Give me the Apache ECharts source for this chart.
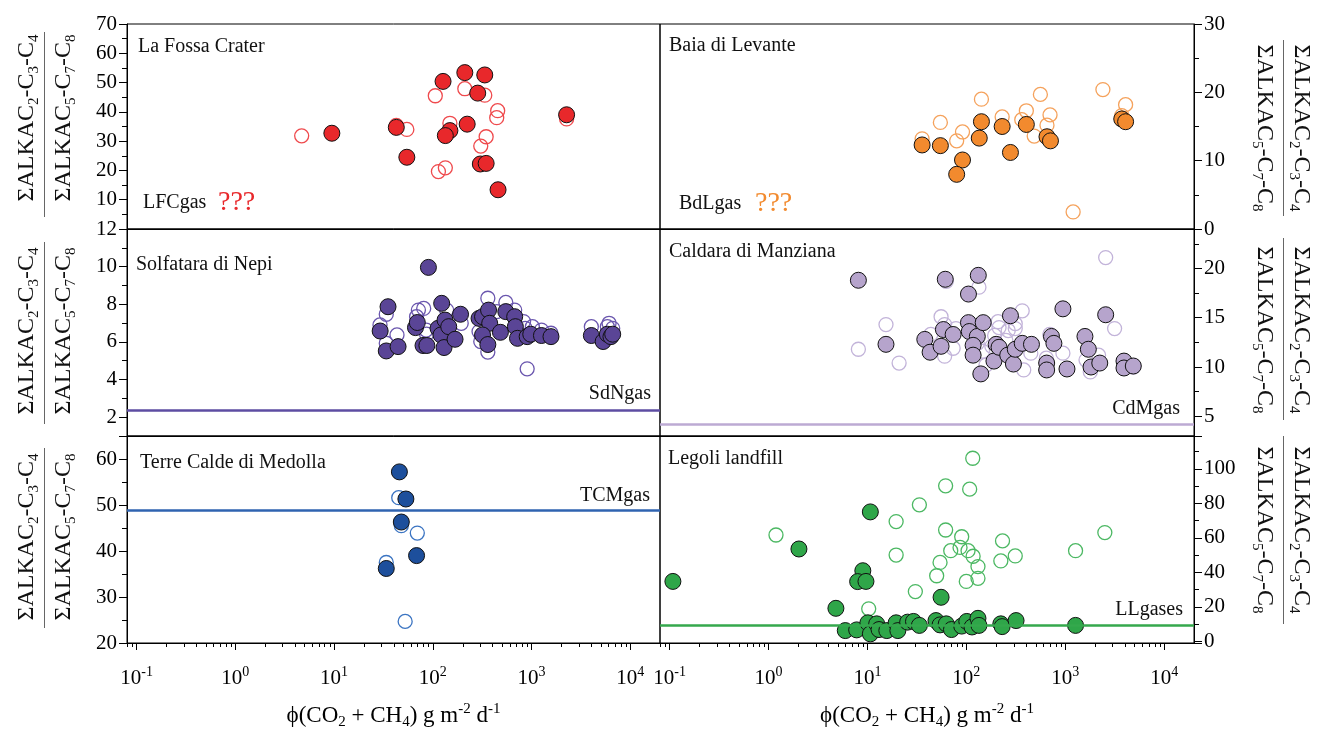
<!DOCTYPE html>
<html><head><meta charset="utf-8">
<script src="https://cdn.jsdelivr.net/npm/echarts@6/dist/echarts.min.js"></script>
<style>html,body{margin:0;padding:0;background:#fff}#c{width:1327px;height:729px}</style>
</head><body><div id="c"></div>
<script>
// ---------------- DATA ----------------
// [flux g m-2 d-1, ratio]
const lfcFilled = [[9.5,32.7],[42.7,34.7],[54.6,24.5],[127,50.4],[211,53.4],[336,52.6],[285,46.4],[223,35.8],[149,33.6],[134,31.9],[303,22.2],[347,22.4],[458,13.4],[2265,39.0]];
const lfcOpen = [[4.7,31.8],[54.6,34.0],[106,45.5],[149,36.1],[114,19.6],[134,20.9],[211,47.9],[336,45.7],[454,40.4],[444,38.0],[347,31.5],[306,28.3],[2265,37.6],[42.7,35.4]];

const bdlFilled = [[35.7,12.3],[54.6,12.2],[91.4,10.1],[79.8,8.0],[142,15.7],[135,13.3],[230,15.0],[279,11.2],[404,15.3],[653,13.5],[708,12.9],[3720,16.1],[4070,15.7]];
const bdlOpen = [[35.7,13.2],[54.6,15.6],[79.8,12.9],[91.4,14.2],[142,19.0],[230,16.4],[363,16.0],[404,17.3],[485,13.6],[560,19.7],[701,16.7],[653,15.2],[2400,20.4],[4070,18.2],[3720,16.6],[1200,2.5]];

const sdnFilled = [[29.3,6.58],[35.2,7.87],[33.8,5.52],[44.5,5.75],[66.8,6.76],[69.7,7.03],[79.6,5.81],[90.3,9.96],[87.1,5.81],[123,8.05],[113,6.72],[133,7.16],[121,6.37],[130,5.70],[145,6.81],[168,6.14],[191,7.47],[294,7.25],[319,7.34],[367,7.69],[377,6.99],[319,6.37],[361,5.86],[484,6.51],[549,7.61],[675,7.34],[686,6.81],[721,6.19],[903,6.28],[982,6.41],[1260,6.34],[1574,6.28],[4034,6.34],[5310,6.02],[5860,6.41],[6370,6.28],[6640,6.41]];
const sdnOpen = [[29.2,6.9],[33.8,7.47],[33.8,5.93],[43.4,6.37],[68.5,7.34],[71.5,7.69],[80.9,7.78],[86.5,6.41],[85.7,6.63],[138,7.69],[194,6.99],[294,6.55],[306,6.02],[361,8.32],[361,5.46],[445,7.61],[549,8.1],[675,7.69],[830,7.08],[863,6.72],[1020,6.81],[1260,6.63],[1574,6.46],[903,4.57],[4034,6.81],[5860,6.81],[6100,6.99],[6640,6.72]];

const cdmFilled = [[8.1,18.8],[15.4,12.3],[61.2,18.9],[132,19.3],[105,17.4],[38,12.8],[43,11.5],[55.5,12.1],[58.6,13.8],[73.5,13.3],[105,14.5],[107,13.6],[129,13.1],[148,14.5],[117,12.2],[117,11.2],[140,9.3],[190,10.6],[200,12.3],[214,12.0],[262,11.2],[279,15.2],[299,10.3],[312,11.8],[367,12.4],[455,12.3],[648,10.4],[648,9.7],[725,13.1],[767,12.4],[946,15.9],[1040,9.8],[1580,13.1],[1710,11.8],[1820,10.0],[2230,10.4],[2560,15.3],[3920,10.6],[3920,9.9],[4870,10.1]];
const cdmOpen = [[8.1,11.8],[15.4,14.3],[20.9,10.4],[43.7,13.3],[55.5,15.1],[60.3,14.3],[60.3,11.1],[73.5,11.9],[78.5,13.9],[62.6,18.7],[134,18.1],[146,11.6],[158,10.2],[193,13.2],[209,14.6],[214,14.0],[251,12.7],[265,13.7],[312,14.4],[312,13.9],[367,15.7],[380,9.7],[448,11.4],[643,10.9],[697,13.3],[946,11.4],[1620,10.7],[1790,9.5],[2170,11.2],[2560,21.1],[3150,13.9],[3920,10.4],[4870,10.0],[129,12.4],[181,12.1]];

const tcmFilled = [[45.9,57.2],[53.4,51.3],[48,46.3],[68.5,39.0],[33.8,36.2]];
const tcmOpen = [[45.2,51.6],[48,45.5],[69.7,43.9],[33.8,37.5],[52.5,24.7]];

const llFilled = [[0.108,34.7],[2.03,53.5],[10.7,75.0],[4.8,19.1],[8.98,40.9],[7.96,34.6],[9.66,34.7],[55.5,25.5],[5.97,6.2],[7.78,6.6],[10.1,10.7],[10.7,4.3],[12.4,10.1],[13.1,6.8],[15.7,6.2],[19.5,10.7],[20.3,6.2],[25.5,11.1],[29.2,11.5],[33.5,9.2],[49.3,12.0],[54.2,9.5],[62.6,10.1],[70.7,6.8],[89.7,8.8],[101,11.5],[114,8.3],[131,13.3],[134,9.2],[223,10.1],[230,8.5],[318,12.0],[1270,9.2]];
const llOpen = [[1.19,61.6],[10.3,18.8],[19.5,69.4],[19.5,50.0],[30.5,28.8],[33.5,79.1],[50.1,38.0],[54.2,45.7],[61.7,90.1],[61.7,64.5],[69.5,52.5],[89.7,60.6],[86.3,54.4],[99.8,34.7],[104,52.5],[108,88.2],[116,106.1],[117,49.3],[131,43.3],[131,36.5],[223,46.6],[232,58.2],[312,49.5],[1270,52.5],[2510,63.0]];

// reference gas lines
const sdnGas = 2.36, cdmGas = 4.2, tcmGas = 48.95, llGas = 9.1;

// log x-axis minor tick values
const minorTickValues = [0.08,0.09,0.2,0.3,0.4,0.5,0.6,0.7,0.8,0.9,2,3,4,5,6,7,8,9,20,30,40,50,60,70,80,90,200,300,400,500,600,700,800,900,2000,3000,4000,5000,6000,7000,8000,9000];

const panelNames = ['La Fossa Crater','Baia di Levante','Solfatara di Nepi','Caldara di Manziana','Terre Calde di Medolla','Legoli landfill'];
const gasNames = ['LFCgas','BdLgas','SdNgas','CdMgas','TCMgas','LLgases'];

// ---------------- CHART ----------------
const F = 'Liberation Serif';
const chart = echarts.init(document.getElementById('c'), null, {renderer: 'canvas'});

const grids = [
  {left:127, top:24, width:533, height:205},
  {left:660, top:24, width:534, height:205},
  {left:127, top:229, width:533, height:207},
  {left:660, top:229, width:534, height:207},
  {left:127, top:436, width:533, height:207},
  {left:660, top:436, width:534, height:207}
].map(g => Object.assign(g, {show:true, borderColor:'#000', borderWidth:1, backgroundColor:'transparent', containLabel:false, outerBoundsMode:'none'}));

const colors = [
  {fill:'#e8282b', open:'#ef4a4d', line:null},
  {fill:'#f28a2e', open:'#f5a25c', line:null},
  {fill:'#5a4596', open:'#6a56ae', line:'#5d4ca2'},
  {fill:'#b6a4cc', open:'#c2b3d9', line:'#bcaad3'},
  {fill:'#1d4f9c', open:'#3b74c2', line:'#2f63b0'},
  {fill:'#2fa649', open:'#4cb863', line:'#35a84d'}
];

const labelBase = {fontFamily:F, fontSize:21, color:'#000'};

const xAxes = grids.map((g, i) => {
  const bottom = i >= 4;
  const ax = {
    type:'log', logBase:10, min:0.08, max:20000, gridIndex:i,
    axisLine:{show:true, onZero:false, lineStyle:{color:'#000', width:1}},
    axisTick:{show:bottom, inside:false, length:7, lineStyle:{color:'#000'}},
    minorTick:{show:false},
    splitLine:{show:false},
    axisLabel:{show:bottom, margin:22, showMinLabel:false, showMaxLabel:false, hideOverlap:false,
      formatter: v => '{b|10}{s|' + Math.round(Math.log10(v)) + '}',
      rich:{
        b:{fontFamily:F, fontSize:21, lineHeight:26, color:'#000'},
        s:{fontFamily:F, fontSize:14, lineHeight:14, verticalAlign:'top', color:'#000'}
      }
    }
  };
  if (bottom) {
    ax.name = '{b|ϕ(CO}{s|2}{b| + CH}{s|4}{b|) g m}{p|-2}{b| d}{p|-1}';
    ax.nameLocation = 'middle';
    ax.nameGap = 59;
    ax.nameTextStyle = {rich:{
      b:{fontFamily:F, fontSize:23, lineHeight:28, color:'#000'},
      s:{fontFamily:F, fontSize:15, lineHeight:15, verticalAlign:'bottom', color:'#000'},
      p:{fontFamily:F, fontSize:15, lineHeight:15, verticalAlign:'top', color:'#000'}
    }};
  }
  return ax;
});

const yDefs = [
  {min:0, max:70, interval:10, hideMin:true, hideMax:false},
  {min:0, max:30, interval:10, hideMin:false, hideMax:false},
  {min:1, max:12, minInterval:2, maxInterval:2, hideMin:true, hideMax:false},
  {min:3, max:24, minInterval:5, maxInterval:5, hideMin:true, hideMax:true},
  {min:20, max:65, interval:10, hideMin:false, hideMax:true},
  {min:-1, max:119, minInterval:20, maxInterval:20, hideMin:true, hideMax:true}
];
const yAxes = yDefs.map((d, i) => {
  const ax = {
    type:'value', gridIndex:i, position: i % 2 === 0 ? 'left' : 'right',
    min:d.min, max:d.max,
    axisLine:{show:true, onZero:false, lineStyle:{color:'#000', width:1}},
    axisTick:{show:true, inside:false, length:8, lineStyle:{color:'#000'}},
    minorTick:{show:true, splitNumber:2, length:5, lineStyle:{color:'#000'}},
    splitLine:{show:false},
    axisLabel:Object.assign({margin:10, showMinLabel:!d.hideMin, showMaxLabel:!d.hideMax, hideOverlap:false}, labelBase)
  };
  if (d.interval) ax.interval = d.interval;
  if (d.minInterval) { ax.minInterval = d.minInterval; ax.maxInterval = d.maxInterval; }
  return ax;
});

const datasets = [
  [lfcOpen, lfcFilled, null],
  [bdlOpen, bdlFilled, null],
  [sdnOpen, sdnFilled, sdnGas],
  [cdmOpen, cdmFilled, cdmGas],
  [tcmOpen, tcmFilled, tcmGas],
  [llOpen, llFilled, llGas]
];

const series = [];
datasets.forEach((ds, i) => {
  const c = colors[i];
  const openS = {
    type:'scatter', name:gasNames[i] + ' open', xAxisIndex:i, yAxisIndex:i, data:ds[0],
    symbol:'circle', symbolSize:14, z:2,
    itemStyle:{color:'rgba(255,255,255,0)', borderColor:c.open, borderWidth:1.3, opacity:1},
    emphasis:{disabled:true}, silent:true
  };
  if (ds[2] !== null) {
    openS.markLine = {
      silent:true, symbol:'none', animation:false, label:{show:false},
      lineStyle:{color:c.line, width:2.5, type:'solid'},
      emphasis:{disabled:true},
      data:[{yAxis:ds[2]}]
    };
  }
  series.push(openS);
  series.push({
    type:'scatter', name:gasNames[i] + ' filled', xAxisIndex:i, yAxisIndex:i, data:ds[1],
    symbol:'circle', symbolSize:16, z:3,
    itemStyle:{color:c.fill, borderColor:'#111', borderWidth:1, opacity:1},
    emphasis:{disabled:true}, silent:true
  });
});

// log minor ticks on the bottom x-axes
[4, 5].forEach(i => {
  series.push({
    type:'custom', xAxisIndex:i, yAxisIndex:i, silent:true, clip:false, z:10,
    data: minorTickValues.map(v => [v, yDefs[i].min]),
    renderItem: function(params, api) {
      const p = api.coord([api.value(0), api.value(1)]);
      const cs = params.coordSys;
      const yb = cs.y + cs.height;
      const x = Math.round(p[0]) + 0.5;
      return {type:'line', shape:{x1:x, y1:yb, x2:x, y2:yb + 4}, style:{stroke:'#000', lineWidth:1}};
    }
  });
});

// ---------------- GRAPHIC TEXT ----------------
const g = [];
function txt(x, y, text, size, color, align) {
  g.push({type:'text', x:x, y:y, silent:true, z:20,
    style:{text:text, fontFamily:F, fontSize:size, fill:color || '#111', align:align || 'left', verticalAlign:'middle'}});
}
txt(138, 47, panelNames[0], 20);
txt(669, 46, panelNames[1], 20);
txt(136, 265, panelNames[2], 20);
txt(669, 252, panelNames[3], 20);
txt(140, 463, panelNames[4], 20);
txt(668, 459, panelNames[5], 20);

txt(143, 203, gasNames[0], 20);
txt(218, 203, '???', 28, '#e8282b');
txt(679, 204, gasNames[1], 20);
txt(755, 204, '???', 28, '#f28a2e');
txt(651, 394, gasNames[2], 20, '#111', 'right');
txt(1180, 409, gasNames[3], 20, '#111', 'right');
txt(650, 496, gasNames[4], 20, '#111', 'right');
txt(1183, 610, gasNames[5], 20, '#111', 'right');

const fracRich = {
  b:{fontFamily:F, fontSize:24, lineHeight:30, fill:'#111'},
  s:{fontFamily:F, fontSize:15, lineHeight:15, verticalAlign:'bottom', fill:'#111'}
};
const numText = '{b|ΣALKAC}{s|2}{b|-C}{s|3}{b|-C}{s|4}';
const denText = '{b|ΣALKAC}{s|5}{b|-C}{s|7}{b|-C}{s|8}';
function rtxt(x, y, text, rot) {
  g.push({type:'text', x:x, y:y, rotation:rot, silent:true, z:20,
    style:{text:text, rich:fracRich, align:'center', verticalAlign:'middle'}});
}
function bar(x, y1, y2) {
  g.push({type:'line', silent:true, z:20, shape:{x1:x, y1:y1, x2:x, y2:y2}, style:{stroke:'#666', lineWidth:1}});
}
// left titles
[[118, 32, 217], [331, 242, 424], [537, 448, 628]].forEach(r => {
  rtxt(27, r[0], numText, Math.PI / 2);
  rtxt(64, r[0], denText, Math.PI / 2);
  bar(44.5, r[1], r[2]);
});
// right titles
[[128, 40, 216], [330, 238, 420], [530, 436, 624]].forEach(r => {
  rtxt(1301, r[0], numText, -Math.PI / 2);
  rtxt(1264, r[0], denText, -Math.PI / 2);
  bar(1283.5, r[1], r[2]);
});

chart.setOption({
  animation:false,
  backgroundColor:'#fff',
  grid:grids,
  xAxis:xAxes,
  yAxis:yAxes,
  series:series,
  graphic:g
});
</script>
</body></html>
